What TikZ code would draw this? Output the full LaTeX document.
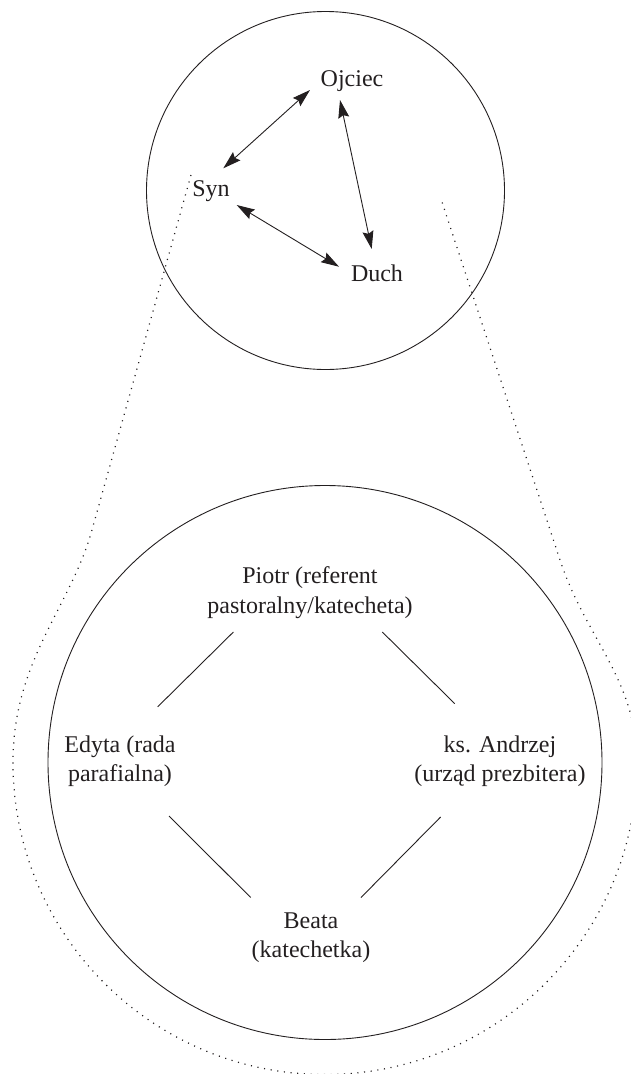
\documentclass[tikz,border=0pt]{standalone}
\usepackage{fontspec}
\setmainfont{Liberation Serif}
\usetikzlibrary{arrows.meta}
\definecolor{ink}{RGB}{35,31,32}
\begin{document}
\begin{tikzpicture}[x=1pt,y=-1pt,
  lbl/.style={font=\fontsize{24}{29.5}\selectfont, text=ink, inner sep=0pt, align=center},
  ring/.style={draw=ink, line width=0.9pt},
  link/.style={draw=ink, line width=0.9pt},
  biarrow/.style={link, {Stealth[length=18pt,width=11pt,inset=2.5pt]}-{Stealth[length=18pt,width=11pt,inset=2.5pt]}},
  outline/.style={draw=ink, line width=1.2pt, dash pattern=on 1.1pt off 5.6pt}]
\useasboundingbox (0,0) rectangle (631,1074);

% containers
\draw[ring] (325.5,190.5) circle[radius=179];
\draw[ring] (325,762.5) circle[radius=277];

% dotted outline
\draw[outline] (191,175) -- (92,530) .. controls (70.2,608) and (13,660) .. (13,762.5)
  arc[start angle=180,end angle=0,radius=312]
  .. controls (637,680) and (585.7,638) .. (560,560) -- (441,199);

% Trinity
\node[lbl, anchor=base] (ojciec) at (352,86) {Ojciec};
\node[lbl, anchor=base] (syn) at (211,196) {Syn};
\node[lbl, anchor=base] (duch) at (377,281.7) {Duch};

\coordinate (so1) at (223.3,168.3);
\coordinate (so2) at (310,90);
\coordinate (od1) at (340,100);
\coordinate (od2) at (371.7,249);
\coordinate (sd1) at (236.7,205);
\coordinate (sd2) at (339,266.7);
\draw[biarrow] (so1) -- (so2);
\draw[biarrow] (od1) -- (od2);
\draw[biarrow] (sd1) -- (sd2);

% parish team
\node[lbl, anchor=north] (piotr) at (310,566.8) {Piotr (referent\\pastoralny/katecheta)};
\node[lbl, anchor=north] (edyta) at (120,735.2) {Edyta (rada\\parafialna)};
\node[lbl, anchor=north] (andrzej) at (500,735.3) {ks. Andrzej\\(urząd prezbitera)};
\node[lbl, anchor=north] (beata) at (311,912.4) {Beata\\(katechetka)};

\coordinate (pe1) at (233.4,632);
\coordinate (pe2) at (157.7,706.8);
\coordinate (pa1) at (382.3,632);
\coordinate (pa2) at (454.7,703.6);
\coordinate (eb1) at (169,816);
\coordinate (eb2) at (250.7,897.5);
\coordinate (ab1) at (440.6,817);
\coordinate (ab2) at (361,897.5);
\draw[link] (pe1) -- (pe2);
\draw[link] (pa1) -- (pa2);
\draw[link] (eb1) -- (eb2);
\draw[link] (ab1) -- (ab2);
\end{tikzpicture}
\end{document}
